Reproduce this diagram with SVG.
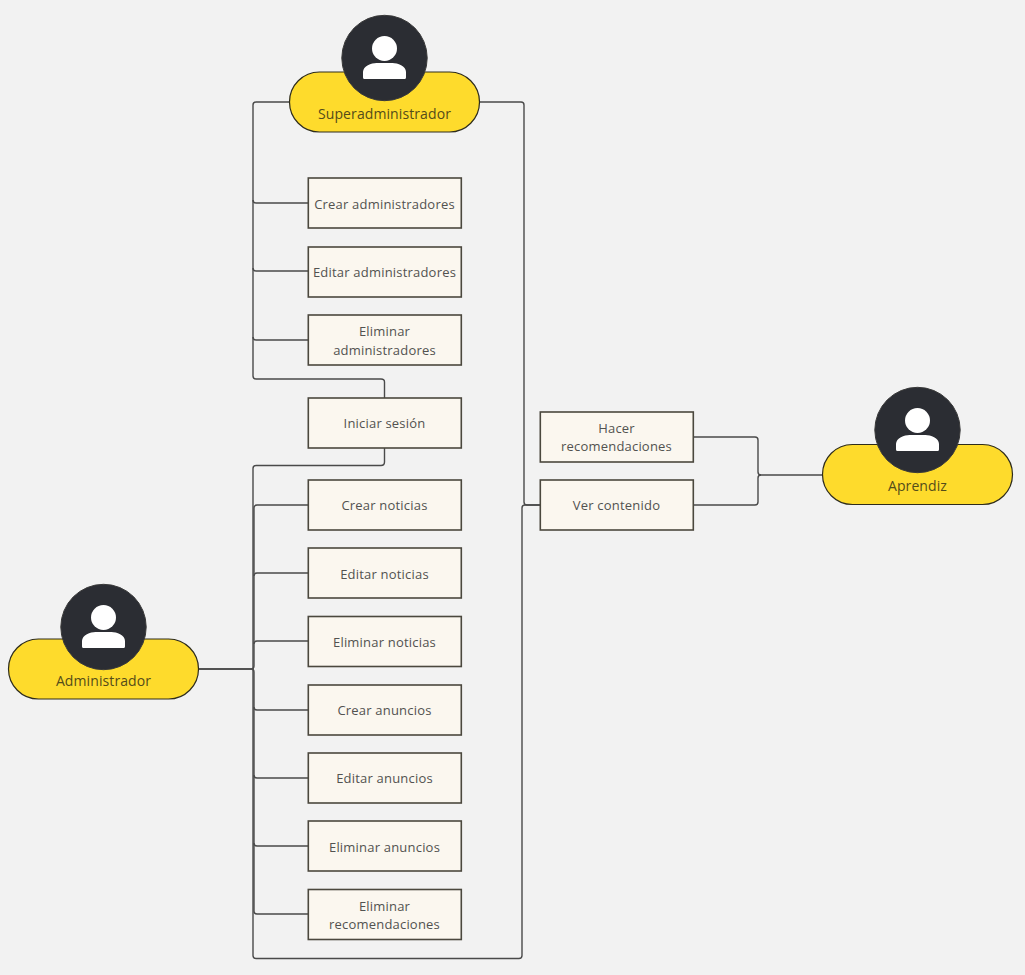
<svg xmlns="http://www.w3.org/2000/svg" width="1025" height="975" viewBox="0 0 1025 975">
<defs>
<g id="avatar">
<circle class="disc" r="42.700"/>
<circle class="glyph" cy="-9.500" r="12.500"/>
<path class="glyph" d="M-21.500 21V14C-21.500 8-13 5-8 5H8C13 5 21.500 8 21.500 14V19.500Q21.500 21 20 21H-20Q-21.500 21-21.500 19.500Z"/>
</g>
</defs>
<style>
text{font-family:"Open Sans","Noto Sans",sans-serif;font-size:13px;fill:#525250;text-anchor:middle;letter-spacing:.2px}
.disc{fill:#2b2d33;stroke:#3a3a3a;stroke-width:1}
.glyph{fill:#fff}
.pill{fill:#fedb2c;stroke:#2e2c1c;stroke-width:1.200}
.pill-t{font-size:14px;fill:#544c1a;letter-spacing:.1px}
.box{fill:#fbf7ef;stroke:#4b483e;stroke-width:1.600}
.c{fill:none;stroke:#4a4a4a;stroke-width:1.400}
</style>
<rect width="1025" height="975" fill="#f2f2f2"/>
<g id="connectors">
<path class="c" d="M289 102H256Q253 102 253 105V376Q253 379 256 379H381Q384.500 379 384.500 382V398"/>
<path class="c" d="M253 200Q253 203 256 203H308"/>
<path class="c" d="M253 268Q253 271 256 271H308"/>
<path class="c" d="M253 337Q253 340 256 340H308"/>
<path class="c" d="M480 102H521Q524 102 524 105V502Q524 505 527 505H540"/>
<path class="c" d="M384.500 448V462Q384.500 465.500 381 465.500H256Q253 465.500 253 468.500V955.500Q253 958.500 256 958.500H519Q522 958.500 522 955.500V508Q522 505 525 505H540"/>
<path class="c" d="M199 669H251Q254 669 254 666V508Q254 505 257 505H308"/>
<path class="c" d="M254 576Q254 573 257 573H308"/>
<path class="c" d="M254 644Q254 641 257 641H308"/>
<path class="c" d="M199 669H251Q254 669 254 672V911Q254 914 257 914H308"/>
<path class="c" d="M254 707Q254 710 257 710H308"/>
<path class="c" d="M254 775Q254 778 257 778H308"/>
<path class="c" d="M254 843Q254 846 257 846H308"/>
<path class="c" d="M822 475H761Q758 475 758 472V440Q758 437 755 437H693"/>
<path class="c" d="M761 475Q758 475 758 478V502Q758 505 755 505H693"/>
</g>
<g id="superadministrador">
<rect class="pill" x="289.500" y="72" width="190" height="60" rx="30"/>
<use href="#avatar" x="384.500" y="58"/>
<text class="pill-t" x="384.500" y="119">Superadministrador</text>
</g>
<g id="administrador">
<rect class="pill" x="8.500" y="639" width="190" height="60" rx="30"/>
<use href="#avatar" x="103.500" y="627"/>
<text class="pill-t" x="103.500" y="686">Administrador</text>
</g>
<g id="aprendiz">
<rect class="pill" x="822.500" y="444.500" width="190" height="60" rx="30"/>
<use href="#avatar" x="917.500" y="430"/>
<text class="pill-t" x="917.500" y="491">Aprendiz</text>
</g>
<g id="crear-administradores"><rect class="box" x="308.300" y="178" width="153" height="50"/><text x="384.500" y="209">Crear administradores</text></g>
<g id="editar-administradores"><rect class="box" x="308.300" y="247" width="153" height="50"/><text x="384.500" y="277">Editar administradores</text></g>
<g id="eliminar-administradores"><rect class="box" x="308.300" y="315" width="153" height="50"/><text x="384.500" y="336">Eliminar</text><text x="384.500" y="355">administradores</text></g>
<g id="iniciar-sesion"><rect class="box" x="308.300" y="398" width="153" height="50"/><text x="384.500" y="428">Iniciar sesión</text></g>
<g id="crear-noticias"><rect class="box" x="308.300" y="480" width="153" height="50"/><text x="384.500" y="510">Crear noticias</text></g>
<g id="editar-noticias"><rect class="box" x="308.300" y="548" width="153" height="50"/><text x="384.500" y="579">Editar noticias</text></g>
<g id="eliminar-noticias"><rect class="box" x="308.300" y="616.500" width="153" height="50"/><text x="384.500" y="647">Eliminar noticias</text></g>
<g id="crear-anuncios"><rect class="box" x="308.300" y="685" width="153" height="50"/><text x="384.500" y="715">Crear anuncios</text></g>
<g id="editar-anuncios"><rect class="box" x="308.300" y="753" width="153" height="50"/><text x="384.500" y="783">Editar anuncios</text></g>
<g id="eliminar-anuncios"><rect class="box" x="308.300" y="821" width="153" height="50"/><text x="384.500" y="852">Eliminar anuncios</text></g>
<g id="eliminar-recomendaciones"><rect class="box" x="308.300" y="889.500" width="153" height="50"/><text x="384.500" y="911">Eliminar</text><text x="384.500" y="929">recomendaciones</text></g>
<g id="hacer-recomendaciones"><rect class="box" x="540.300" y="412" width="153" height="50"/><text x="616.500" y="433">Hacer</text><text x="616.500" y="451">recomendaciones</text></g>
<g id="ver-contenido"><rect class="box" x="540.300" y="480" width="153" height="50"/><text x="616.500" y="510">Ver contenido</text></g>
</svg>
